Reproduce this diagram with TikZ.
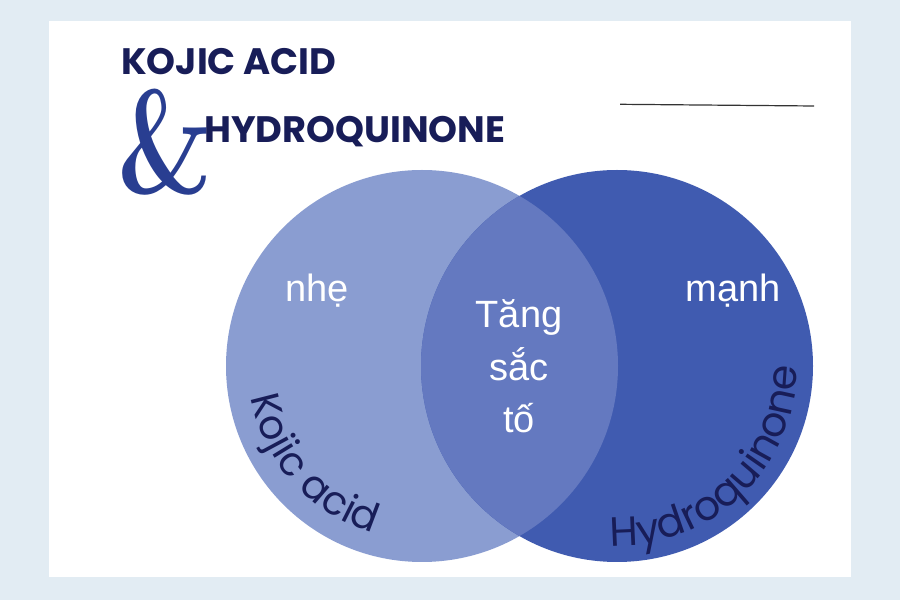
\documentclass[tikz,border=0pt]{standalone}
\usepackage{fontspec}
\usepackage{xcolor}
\newfontfamily\labelfont{Liberation Sans}
\newfontfamily\titlefont{Poppins}
\newfontfamily\curvefont{Poppins}
\usetikzlibrary{calc,positioning,decorations.text}

\definecolor{bgblue}{RGB}{226,236,243}
\definecolor{kojicblue}{RGB}{138,157,209}
\definecolor{hydroblue}{RGB}{64,91,176}
\definecolor{mixblue}{RGB}{100,121,192}
\definecolor{navy}{RGB}{24,29,88}
\definecolor{ampblue}{RGB}{41,62,145}

\begin{document}
\begin{tikzpicture}
    [
      x=1pt, y=1pt,
      titletext/.style = {text=navy, inner sep=0, anchor=base west,
                          font=\titlefont\bfseries\fontsize{36.8}{36.8}\selectfont},
      ampsign/.style   = {text=ampblue, inner sep=0, anchor=base west,
                          font=\bfseries\fontsize{148}{148}\selectfont},
      inlabel/.style   = {text=white, inner sep=0, anchor=base,
                          font=\labelfont\fontsize{38}{38}\selectfont},
    ]

    % page and card
    \fill[bgblue] (0,0) rectangle (900,600);
    \fill[white] (49,23) rectangle (851,579);
    \useasboundingbox (0,0) rectangle (900,600);

    % title
    \node[titletext] (kojictitle) at (121,525) {KOJIC ACID};
    \node[ampsign] (amp) at (117,406) {\scalebox{0.74}[1]{\&}};
    \node[titletext] (hydrotitle) at (204,457) {HYDROQUINONE};
    \coordinate (rulestart) at (620,495.7);
    \coordinate (ruleend) at (814,494);
    \draw[black!80, line width=1.2pt] (rulestart) -- (ruleend);

    % the two sets
    \coordinate (kojic) at (422,234);
    \coordinate (hydro) at (617,234);
    \fill[kojicblue] (kojic) circle[radius=196];
    \fill[hydroblue] (hydro) circle[radius=196];
    \begin{scope}
      \clip (kojic) circle[radius=196];
      \fill[mixblue] (hydro) circle[radius=196];
    \end{scope}

    % set names along the rims
    \path[decorate, decoration={text along path, text align=center,
        text={|\curvefont\fontsize{40}{40}\selectfont\color{navy}|Kojic acid}}]
      ($(kojic)+(162:174)$) arc[start angle=162, end angle=282, radius=174];
    \path[decorate, decoration={text along path, text align=center,
        text={|\curvefont\fontsize{41}{41}\selectfont\color{navy}|Hydroquinone}}]
      ($(hydro)+(254:180)$) arc[start angle=254, end angle=374, radius=180];

    % labels
    \node[inlabel] (nhe) at (317,298) {nhẹ};
    \node[inlabel] (manh) at (733,298) {mạnh};
    \node[inlabel] (tang) at (519,272) {Tăng};
    \node[inlabel] (sac) at (519,219) {sắc};
    \node[inlabel] (tof) at (519,167) {tố};
\end{tikzpicture}
\end{document}
